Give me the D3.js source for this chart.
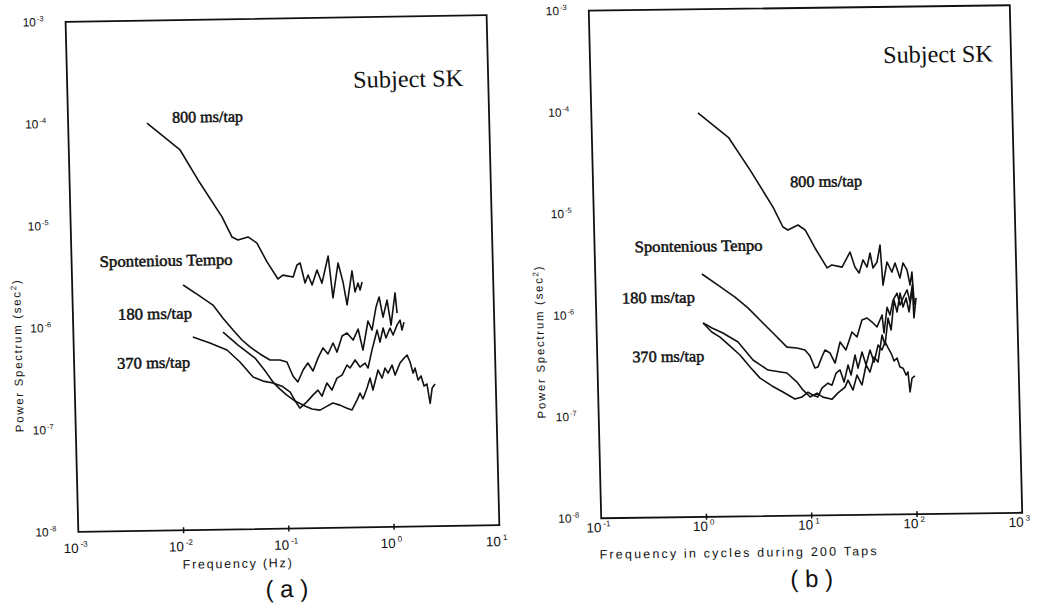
<!DOCTYPE html>
<html><head><meta charset="utf-8">
<script src="https://cdn.jsdelivr.net/npm/d3@7"></script>
<style>
html,body{margin:0;padding:0;background:#fff;}
svg{display:block;}
</style></head><body>
<svg id="chart" width="1044" height="603"></svg>
<script>
// ---------- DATA ----------
// Panel (a): frequency in Hz, power in sec^2
const a800_f = [5.61e-3,1.14e-2,1.73e-2,2.75e-2,3.38e-2,3.85e-2,4.80e-2,5.82e-2,7.18e-2,9.04e-2,0.101,0.126,0.138,0.148,0.163,0.175,0.190,0.213,0.236,0.274,0.298,0.339,0.374,0.404,0.458,0.484,0.519,0.541,0.568];
const a800_p = [9.9e-5,5.33e-5,2.51e-5,1.16e-5,7.35e-6,6.85e-6,7.31e-6,6.35e-6,4.13e-6,2.80e-6,3.05e-6,2.91e-6,3.81e-6,3.98e-6,2.53e-6,3.03e-6,2.42e-6,3.38e-6,2.51e-6,4.62e-6,1.79e-6,3.93e-6,2.56e-6,1.52e-6,3.27e-6,2.03e-6,2.48e-6,2.12e-6,2.54e-6];

const aSp_f = [1.13e-2,1.56e-2,2.15e-2,2.66e-2,3.29e-2,3.98e-2,4.72e-2,5.85e-2,7.26e-2,9.04e-2,0.105,0.119,0.132,0.149,0.166,0.185,0.208,0.233,0.259,0.291,0.316,0.356,0.397,0.452,0.507,0.558,0.632,0.687,0.760,0.817,0.881,0.970,1.045,1.16,1.20];
const aSp_p = [2.53e-6,2.01e-6,1.59e-6,1.18e-6,9.0e-7,7.16e-7,6.10e-7,5.19e-7,4.51e-7,4.50e-7,4.29e-7,3.12e-7,2.72e-7,3.56e-7,4.16e-7,3.47e-7,4.65e-7,5.81e-7,5.06e-7,6.47e-7,5.27e-7,7.55e-7,8.07e-7,6.87e-7,8.79e-7,5.46e-7,1.05e-6,8.55e-7,1.44e-6,1.80e-6,1.14e-6,1.67e-6,9.5e-7,1.96e-6,1.24e-6];

const a180_f = [2.64e-2,3.64e-2,5.24e-2,6.61e-2,7.66e-2,8.89e-2,0.103,0.123,0.152,0.177,0.211,0.247,0.281,0.327,0.381,0.425,0.476,0.511,0.543,0.597,0.641,0.679,0.767,0.834,0.895,0.953,1.045,1.11,1.245,1.365,1.459,1.552,1.648,1.726,1.832,1.959,2.08,2.22,2.355,2.48,2.65];
const a180_p = [8.63e-7,6.40e-7,4.74e-7,3.44e-7,2.74e-7,2.33e-7,2.03e-7,1.77e-7,1.58e-7,1.47e-7,1.43e-7,1.56e-7,1.67e-7,1.59e-7,1.48e-7,1.42e-7,1.77e-7,2.07e-7,1.81e-7,2.32e-7,2.90e-7,2.21e-7,3.46e-7,2.88e-7,3.61e-7,3.22e-7,3.85e-7,3.07e-7,4.02e-7,4.50e-7,4.80e-7,4.10e-7,3.19e-7,3.57e-7,2.72e-7,2.98e-7,2.37e-7,2.48e-7,1.6e-7,2.26e-7,2.47e-7];

const a370_f = [1.36e-2,1.97e-2,2.85e-2,3.76e-2,4.97e-2,6.17e-2,7.66e-2,9.31e-2,0.111,0.125,0.136,0.159,0.182,0.204,0.222,0.249,0.277,0.311,0.348,0.390,0.416,0.467,0.518,0.579,0.617,0.679,0.731,0.767,0.813,0.877,0.929,1.02,1.086,1.19,1.276,1.324,1.39];
const a370_p = [7.80e-7,6.76e-7,5.74e-7,4.36e-7,3.09e-7,2.81e-7,2.68e-7,2.49e-7,2.17e-7,1.73e-7,1.51e-7,1.73e-7,2.01e-7,2.25e-7,1.96e-7,2.63e-7,2.24e-7,2.93e-7,3.13e-7,3.92e-7,3.66e-7,4.38e-7,3.73e-7,4.07e-7,3.64e-7,5.44e-7,7.13e-7,8.53e-7,6.50e-7,8.91e-7,7.11e-7,8.89e-7,7.59e-7,9.48e-7,1.06e-6,8.47e-7,1.01e-6];

// Panel (b): frequency in cycles during 200 taps, power in sec^2
const b800_c = [1.03,2.00,3.12,5.06,6.22,6.93,8.65,10.1,12.4,16.0,17.8,22.2,26.6,29.4,32.1,35.2,38.3,41.2,43.6,47.8,51.5,53.8,59.4,65.9,70.8,78.3,84.3,91.6,97.3,102,105];
const b800_p = [9.53e-5,5.36e-5,2.58e-5,1.10e-5,7.00e-6,6.53e-6,7.29e-6,6.50e-6,4.31e-6,2.73e-6,2.92e-6,2.77e-6,3.89e-6,2.77e-6,2.41e-6,3.24e-6,2.75e-6,3.78e-6,2.69e-6,3.08e-6,4.52e-6,1.82e-6,3.07e-6,2.44e-6,2.99e-6,2.13e-6,2.99e-6,2.55e-6,1.81e-6,2.43e-6,1.29e-6];

const bSp_c = [1.03,1.456,2.10,2.77,3.58,4.73,6.37,7.93,9.44,10.5,11.6,12.4,13.6,14.6,16.3,18.1,20.4,23.1,26.6,29.6,33.3,37.2,42.4,46.1,51.9,53.6,58.1,61.7,66.5,72.8,77.3,82.8,90.8,96.4,102,104,110];
const bSp_p = [2.47e-6,1.91e-6,1.45e-6,1.13e-6,8.55e-7,6.34e-7,4.59e-7,4.48e-7,4.28e-7,3.72e-7,2.83e-7,2.89e-7,3.63e-7,4.25e-7,3.96e-7,3.15e-7,5.07e-7,4.23e-7,6.34e-7,5.65e-7,8.30e-7,8.67e-7,7.73e-7,7.05e-7,9.25e-7,6.14e-7,1.10e-6,9.23e-7,1.29e-6,1.51e-6,1.15e-6,1.35e-6,1.62e-6,1.23e-6,1.81e-6,8.55e-7,1.35e-6];

const b370_c = [1.03,1.25,1.58,2.19,3.01,4.16,6.28,7.78,8.83,10.3,12.0,13.6,16.6,19.0,22.2,23.8,26.4,29.0,32.2,35.6,38.6,42.6,46.3,51.3,54.5,59.0,62.7,67.9,72.1,77.8,82.4,88.5,93.8,101,107];
const b370_p = [8.13e-7,7.23e-7,6.44e-7,5.22e-7,3.46e-7,2.74e-7,2.55e-7,2.07e-7,1.73e-7,1.47e-7,1.60e-7,1.46e-7,1.39e-7,1.60e-7,1.82e-7,2.13e-7,1.70e-7,2.38e-7,1.90e-7,2.99e-7,2.54e-7,3.57e-7,3.18e-7,5.86e-7,4.68e-7,8.61e-7,6.56e-7,1.29e-6,9.84e-7,1.51e-6,1.10e-6,1.35e-6,9.82e-7,1.61e-6,1.15e-6];

const b180_c = [1.03,1.24,1.48,1.83,2.27,2.81,3.48,4.50,5.70,7.38,8.61,9.84,11.0,12.2,13.4,15.3,16.7,18.4,20.1,21.8,24.0,25.5,28.1,29.8,32.8,35.6,39.1,42.5,46.8,50.8,54.6,58.1,61.8,65.8,70.3,74.6,79.8,84.9,88.7,91.8,96.6,103];
const b180_p = [8.13e-7,6.61e-7,5.87e-7,4.79e-7,3.89e-7,2.95e-7,2.29e-7,1.91e-7,1.66e-7,1.41e-7,1.47e-7,1.64e-7,1.53e-7,1.47e-7,1.79e-7,2.00e-7,1.91e-7,2.51e-7,2.69e-7,2.04e-7,3.00e-7,2.39e-7,3.76e-7,2.79e-7,4.02e-7,2.99e-7,4.19e-7,3.18e-7,4.68e-7,4.18e-7,5.01e-7,4.37e-7,3.89e-7,3.24e-7,3.47e-7,2.82e-7,2.75e-7,2.35e-7,2.52e-7,1.60e-7,2.19e-7,2.30e-7];

// Tick values and labels
const yTickValues = [1e-3,1e-4,1e-5,1e-6,1e-7,1e-8];
const yTickExps   = ["-3","-4","-5","-6","-7","-8"];
const xTickValuesA = [1e-3,1e-2,1e-1,1,10];
const xTickExpsA   = ["-3","-2","-1","0","1"];
const xTickValuesB = [0.1,1,10,100,1000];
const xTickExpsB   = ["-1","0","1","2","3"];

// Texts
const yAxisTitle = "Power Spectrum (sec";
const xAxisTitleA = "Frequency (Hz)";
const xAxisTitleB = "Frequency in cycles during 200 Taps";
const subjectLabel = "Subject SK";

// ---------- DRAWING ----------
const svg = d3.select("#chart");
svg.append("rect").attr("width",1044).attr("height",603).attr("fill","#fff");

const panels = [
  {
    xDomain:[1e-3,10], xRange:[72,493], yRange:[18.5,528.5],
    warp:{a:0.025,b:-0.016,cx:284,cy:275},
    xTicks:xTickValuesA, xExps:xTickExpsA, xLabelDy:21,
    series:[[a800_f,a800_p],[aSp_f,aSp_p],[a180_f,a180_p],[a370_f,a370_p]],
    labels:[
      {t:subjectLabel, x:358, y:89, size:24, len:110},
      {t:"800 ms/tap", x:176, y:121, size:16, len:71, bold:true},
      {t:"Spontenious Tempo", x:100, y:264, size:16, len:133, bold:true},
      {t:"180 ms/tap", x:117, y:317, size:16, len:74, bold:true},
      {t:"370 ms/tap", x:115, y:366, size:16, len:73, bold:true}
    ],
    xTitle:{t:xAxisTitleA, x:230, y:567, len:109},
    yTitle:{x:16, y:352, len:152},
    panelLabel:{t:"( a )", x:279, y:597}
  },
  {
    xDomain:[0.1,1000], xRange:[595,1016], yRange:[8,515.5],
    warp:{a:0.0245,b:-0.013,cx:805,cy:262},
    xTicks:xTickValuesB, xExps:xTickExpsB, xLabelDy:14,
    series:[[b800_c,b800_p],[bSp_c,bSp_p],[b180_c,b180_p],[b370_c,b370_p]],
    labels:[
      {t:subjectLabel, x:888, y:64, size:24, len:110},
      {t:"800 ms/tap", x:792, y:187, size:16, len:72, bold:true},
      {t:"Spontenious Tenpo", x:635, y:250, size:16, len:128, bold:true},
      {t:"180 ms/tap", x:621, y:301, size:16, len:73, bold:true},
      {t:"370 ms/tap", x:630, y:360, size:16, len:72, bold:true}
    ],
    xTitle:{t:xAxisTitleB, x:731, y:556, len:277},
    yTitle:{x:538, y:339, len:152},
    panelLabel:{t:"( b )", x:804, y:587}
  }
];

panels.forEach(p => {
  const w = p.warp;
  const g = svg.append("g")
    .attr("transform", `translate(${w.cx},${w.cy}) matrix(1,${w.b},${w.a},1,0,0) translate(${-w.cx},${-w.cy})`);

  const x = d3.scaleLog().domain(p.xDomain).range(p.xRange);
  const y = d3.scaleLog().domain([1e-3,1e-8]).range(p.yRange);
  const x0 = p.xRange[0], x1 = p.xRange[1], y0 = p.yRange[1], y1 = p.yRange[0];

  // frame
  g.append("rect").attr("x",x0).attr("y",y1).attr("width",x1-x0).attr("height",y0-y1)
    .attr("fill","none").attr("stroke","#111").attr("stroke-width",1.8);

  // x ticks (interior decades)
  g.selectAll(".xt").data(p.xTicks.slice(1,-1)).enter().append("line")
    .attr("x1",d=>x(d)).attr("x2",d=>x(d)).attr("y1",y0-3).attr("y2",y0+3)
    .attr("stroke","#111").attr("stroke-width",1.5);

  // x tick labels
  p.xTicks.forEach((v,i) => {
    const t = g.append("text").attr("x",x(v)-3).attr("y",y0+p.xLabelDy)
      .attr("text-anchor","middle").attr("font-family","Liberation Sans, Arial, sans-serif")
      .attr("font-size",13.5).attr("fill","#111");
    t.append("tspan").text("10");
    t.append("tspan").attr("dy",-6).attr("dx",2).attr("font-size",8).text(p.xExps[i]);
  });

  // y tick labels
  yTickValues.forEach((v,i) => {
    const t = g.append("text").attr("x",x0-22).attr("y",y(v)+4)
      .attr("text-anchor","end").attr("font-family","Liberation Sans, Arial, sans-serif")
      .attr("font-size",12).attr("fill","#111");
    t.append("tspan").text("10");
    t.append("tspan").attr("dy",-5).attr("dx",1).attr("font-size",7.5).text(yTickExps[i]);
  });

  // curves
  const line = d3.line().x(d=>x(d[0])).y(d=>y(d[1]));
  p.series.forEach(s => {
    g.append("path").datum(d3.zip(s[0],s[1])).attr("d",line)
      .attr("fill","none").attr("stroke","#111").attr("stroke-width",1.6)
      .attr("stroke-linejoin","round");
  });

  // annotation labels
  p.labels.forEach(l => {
    g.append("text").attr("x",l.x).attr("y",l.y)
      .attr("font-family","Liberation Serif, Times New Roman, serif")
      .attr("font-size",l.size).attr("fill","#111")
      .attr("stroke",l.bold?"#111":"none").attr("stroke-width",l.bold?0.5:0)
      .attr("textLength",l.len).attr("lengthAdjust","spacingAndGlyphs")
      .text(l.t);
  });

  // x axis title
  g.append("text").attr("x",p.xTitle.x).attr("y",p.xTitle.y).attr("text-anchor","middle")
    .attr("font-family","Liberation Sans, Arial, sans-serif").attr("font-size",12.5)
    .attr("fill","#111").attr("textLength",p.xTitle.len).attr("lengthAdjust","spacing")
    .text(p.xTitle.t);

  // y axis title
  const yt = g.append("text").attr("transform",`translate(${p.yTitle.x},${p.yTitle.y}) rotate(-90)`)
    .attr("text-anchor","middle").attr("dy","0.35em")
    .attr("font-family","Liberation Sans, Arial, sans-serif").attr("font-size",11.5)
    .attr("fill","#111").attr("textLength",p.yTitle.len).attr("lengthAdjust","spacing");
  yt.append("tspan").text(yAxisTitle);
  yt.append("tspan").attr("dy",-4).attr("font-size",8).text("2");
  yt.append("tspan").attr("dy",4).text(")");

  // panel label
  g.append("text").attr("x",p.panelLabel.x).attr("y",p.panelLabel.y).attr("text-anchor","middle")
    .attr("font-family","Liberation Sans, Arial, sans-serif").attr("font-size",24)
    .attr("fill","#111").text(p.panelLabel.t);
});
</script>
</body></html>
